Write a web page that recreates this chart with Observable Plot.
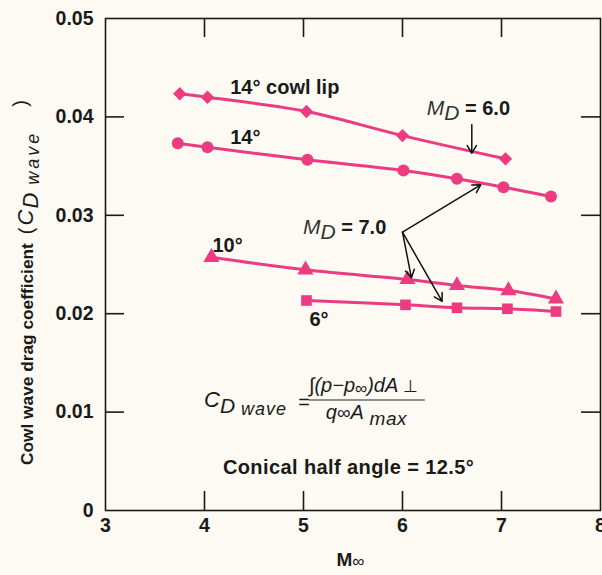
<!DOCTYPE html>
<html>
<head>
<meta charset="utf-8">
<script src="https://cdn.jsdelivr.net/npm/d3@7"></script>
<script src="https://cdn.jsdelivr.net/npm/@observablehq/plot@0.6"></script>
<style>
  html, body { margin: 0; padding: 0; background: #fcfaf3; }
  svg { display: block; }
</style>
</head>
<body>
<div id="chart"></div>
<script>
// ---- data ----
const machCowlLip = [3.75, 4.03, 5.03, 6.0, 7.04];
const cdCowlLip   = [0.04235, 0.0420, 0.04055, 0.0381, 0.03574];
const mach14      = [3.73, 4.03, 5.04, 6.01, 6.55, 7.02, 7.5];
const cd14        = [0.03733, 0.03692, 0.03564, 0.03455, 0.03371, 0.03286, 0.03191];
const mach10      = [4.07, 5.02, 6.05, 6.55, 7.07, 7.55];
const cd10        = [0.02574, 0.02446, 0.02348, 0.02287, 0.02236, 0.02151];
const mach6       = [5.03, 6.03, 6.55, 7.06, 7.55];
const cd6         = [0.02134, 0.0209, 0.0206, 0.0205, 0.02022];

const xTicks = [3, 4, 5, 6, 7, 8];
const yTicks = [0, 0.01, 0.02, 0.03, 0.04, 0.05];
const yTickLabels = ["0", "0.01", "0.02", "0.03", "0.04", "0.05"];

// annotation anchors (data coordinates)
const seriesLabels = [
  {text: "14° cowl lip", x: 4.26, y: 0.0430},
  {text: "14°", x: 4.26, y: 0.0379},
  {text: "10°", x: 4.08, y: 0.0269},
  {text: "6°", x: 5.06, y: 0.0194}
];
const arrows = [
  {x1: 6.70, y1: 0.0392, x2: 6.70, y2: 0.0363},
  {x1: 6.0, y1: 0.02828, x2: 6.79, y2: 0.0331},
  {x1: 6.0, y1: 0.02828, x2: 6.09, y2: 0.02365},
  {x1: 6.0, y1: 0.02828, x2: 6.40, y2: 0.02125}
];

const series = [
  {name: "cowl", mach: machCowlLip, cd: cdCowlLip, symbol: "diamond2"},
  {name: "14", mach: mach14, cd: cd14, symbol: "circle"},
  {name: "10", mach: mach10, cd: cd10, symbol: "triangle"},
  {name: "6", mach: mach6, cd: cd6, symbol: "square"}
];
const rows = series.flatMap(s => s.mach.map((m, i) => ({series: s.name, symbol: s.symbol, mach: m, cd: s.cd[i]})));

const pink = "#ec3b80";
const font = "'Liberation Sans', Arial, Helvetica, sans-serif";

const W = 602, H = 575;
const mL = 105, mR = 2, mT = 18, mB = 65;
const innerW = W - mL - mR, innerH = H - mT - mB;
const tickLen = 19;

const plot = Plot.plot({
  width: W,
  height: H,
  marginLeft: mL,
  marginRight: mR,
  marginTop: mT,
  marginBottom: mB,
  style: {background: "#fcfaf3", fontFamily: font, color: "#1a1a1a"},
  x: {domain: [3, 8], ticks: xTicks},
  y: {domain: [0, 0.05], ticks: yTicks},
  marks: [
    Plot.frame({stroke: "#1a1a1a", strokeWidth: 1.6}),
    // inward ticks on all four sides
    Plot.tickX(xTicks.slice(1, -1), {x: d => d, insetTop: innerH - tickLen, stroke: "#1a1a1a", strokeWidth: 1.6}),
    Plot.tickX(xTicks.slice(1, -1), {x: d => d, insetBottom: innerH - tickLen, stroke: "#1a1a1a", strokeWidth: 1.6}),
    Plot.tickY(yTicks.slice(1, -1), {y: d => d, insetRight: innerW - tickLen, stroke: "#1a1a1a", strokeWidth: 1.6}),
    Plot.tickY(yTicks.slice(1, -1), {y: d => d, insetLeft: innerW - tickLen, stroke: "#1a1a1a", strokeWidth: 1.6}),
    Plot.axisX(xTicks, {tickSize: 0, tickPadding: 8, label: null, fontSize: 19.5, fontWeight: "bold", fill: "#1a1a1a"}),
    Plot.axisY(yTicks, {tickSize: 0, tickPadding: 12, label: null, tickFormat: (d, i) => yTickLabels[i], fontSize: 19.5, fontWeight: "bold", fill: "#1a1a1a", letterSpacing: 0.5}),
    Plot.line(rows, {x: "mach", y: "cd", z: "series", stroke: pink, strokeWidth: 3, curve: "catmull-rom"}),
    Plot.dot(rows, {x: "mach", y: "cd", symbol: "symbol", fill: pink, stroke: "none", r: 6}),
    Plot.text(seriesLabels, {x: "x", y: "y", text: "text", textAnchor: "start", fontSize: 20, fontWeight: "bold", fill: "#1a1a1a", letterSpacing: 0.3}),
    Plot.arrow(arrows, {x1: "x1", y1: "y1", x2: "x2", y2: "y2", stroke: "#111", strokeWidth: 1.5, headLength: 9, bend: false})
  ]
});

document.getElementById("chart").appendChild(plot);

const X = plot.scale("x").apply, Y = plot.scale("y").apply;
const svg = d3.select(plot);

function rich(x, y, parts, opts = {}) {
  const t = svg.append("text")
    .attr("x", x).attr("y", y)
    .attr("font-family", font)
    .attr("fill", "#1a1a1a")
    .attr("text-anchor", opts.anchor || "start");
  if (opts.rotate) t.attr("transform", `rotate(${opts.rotate}, ${x}, ${y})`);
  for (const p of parts) {
    const s = t.append("tspan").text(p.t);
    s.attr("font-size", p.size || 18);
    s.attr("font-weight", p.bold ? "bold" : "normal");
    if (p.italic) s.attr("font-style", "italic");
    if (p.dy) s.attr("dy", p.dy);
    if (p.dx) s.attr("dx", p.dx);
    if (p.fill) s.attr("fill", p.fill);
    if (p.ls) s.attr("letter-spacing", p.ls);
  }
  return t;
}

// M_D = 6.0
rich(X(6.25), Y(0.0401), [
  {t: "M", italic: true, size: 21, fill: "#333"},
  {t: "D", italic: true, size: 21, dy: 5, fill: "#333"},
  {t: " = 6.0", bold: true, size: 20, dy: -5}
]);
// M_D = 7.0
rich(X(5.0), Y(0.0280), [
  {t: "M", italic: true, size: 21, fill: "#333"},
  {t: "D", italic: true, size: 21, dy: 5, fill: "#333"},
  {t: " = 7.0", bold: true, size: 20, dy: -5}
]);

// formula
rich(X(4.0), Y(0.01047), [
  {t: "C", italic: true, size: 22},
  {t: "D", italic: true, size: 21, dy: 6},
  {t: " wave", italic: true, size: 18, dy: 2, ls: 1},
  {t: "  =", size: 20, dy: -6}
]);
rich(X(5.06), Y(0.01199), [
  {t: "∫(p−p", italic: true, size: 20},
  {t: "∞", size: 17, dy: 2},
  {t: ")dA", italic: true, size: 20, dy: -2},
  {t: " ⊥", size: 17}
]);
svg.append("line")
  .attr("x1", X(5.06)).attr("x2", X(6.23))
  .attr("y1", Y(0.01118)).attr("y2", Y(0.01118))
  .attr("stroke", "#222").attr("stroke-width", 1.2);
rich(X(5.23), Y(0.00925), [
  {t: "q", italic: true, size: 20},
  {t: "∞", size: 19},
  {t: "A", italic: true, size: 20},
  {t: " max", italic: true, size: 19, dy: 6, ls: 0.5}
]);

// conical half angle
rich(X(5.46), Y(0.00365), [
  {t: "Conical half angle = 12.5°", bold: true, size: 20, ls: 0.4}
], {anchor: "middle"});

// axis titles
rich(X(5.48), H - 9, [
  {t: "M", bold: true, size: 19},
  {t: "∞", bold: false, size: 17, dy: 1}
], {anchor: "middle"});
rich(33, 465, [
  {t: "Cowl wave drag coefficient", bold: true, size: 17.3},
  {t: "(", size: 20, dx: 9},
  {t: "C", italic: true, size: 22, dx: 2},
  {t: "D", italic: true, size: 22, dy: 5, dx: 1},
  {t: "wave", italic: true, size: 18, dy: 1, dx: 8, ls: 3},
  {t: ")", size: 20, dy: -12, dx: 24}
], {anchor: "start", rotate: -90});
</script>
</body>
</html>
